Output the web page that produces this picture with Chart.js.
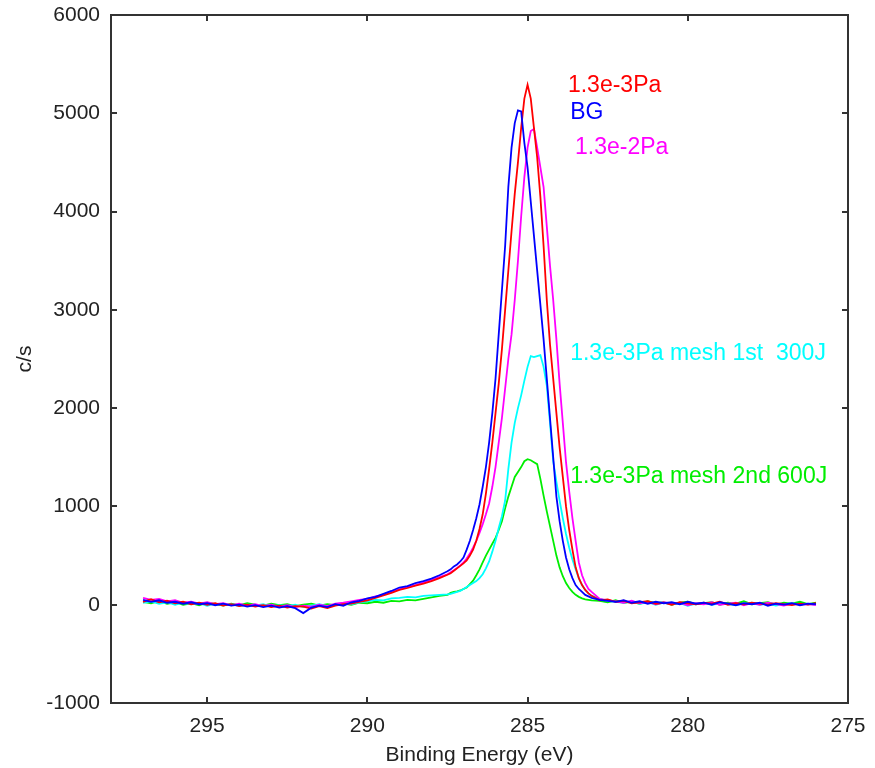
<!DOCTYPE html>
<html><head><meta charset="utf-8">
<script src="https://cdn.jsdelivr.net/npm/chart.js@4/dist/chart.umd.min.js"></script>
<style>html,body{margin:0;padding:0;background:#fff}#wrap{width:875px;height:768px}</style>
</head><body><div id="wrap"><canvas id="c" width="875" height="768"></canvas></div>
<script>
// ---- data (binding energy in eV, intensity in c/s) ----
const ENERGY = [
 297,296.75,296.5,296.25,296,295.75,295.5,295.25,295,294.75,294.5,294.25,294,293.75,293.5,293.25,293,292.75,292.5,292.25,
 292,291.75,291.5,291.25,291,290.75,290.5,290.25,290,289.75,289.5,289.25,289,288.75,288.5,288.25,288,287.75,287.5,
 287.4,287.3,287.2,287.1,287.0,286.9,286.8,286.7,286.6,286.5,286.4,286.3,286.2,286.1,286.0,285.9,285.8,285.7,285.6,285.5,
 285.4,285.3,285.2,285.1,285.0,284.9,284.8,284.7,284.6,284.5,284.4,284.3,284.2,284.1,284.0,283.9,283.8,283.7,283.6,283.5,
 283.4,283.3,283.2,283.1,283.0,
 282.75,282.5,282.25,282,281.75,281.5,281.25,281,280.75,280.5,280.25,280,279.75,279.5,279.25,279,278.75,278.5,278.25,278,
 277.75,277.5,277.25,277,276.75,276.5,276.25,276
];
const BG_VALUES = [
 50,30,45,20,30,10,25,5,15,-5,10,-10,0,-20,-5,-25,-10,-30,-15,-35,-85,-30,-10,-25,5,-10,25,40,65,80,110,140,175,190,220,240,265,300,340,
 360,390,410,440,480,560,650,760,880,1020,1200,1400,1650,1950,2300,2750,3200,3650,4250,4650,4900,5030,5020,4700,4450,
 4100,3750,3400,3050,2700,2300,1900,1500,1100,850,650,480,360,270,200,160,130,100,85,70,
 50,40,30,45,20,35,10,30,15,25,5,30,10,20,0,25,10,-5,15,5,20,-10,10,0,15,-5,10,5
];
const P13E3_VALUES = [
 30,55,25,40,15,30,5,20,0,15,-10,5,-15,0,-20,-5,-25,-10,-30,-15,-20,-40,-15,-35,-10,5,10,30,45,70,95,120,150,170,195,215,240,270,305,
 320,345,370,395,420,450,500,560,650,770,920,1130,1380,1650,1950,2250,2600,3000,3400,3800,4180,4500,4850,5150,5290,
 5150,4850,4550,4150,3650,3100,2650,2300,1950,1600,1300,1000,760,560,380,270,200,150,115,90,
 45,55,30,40,15,25,35,10,20,0,25,15,5,20,10,30,0,15,5,20,10,0,15,5,-5,10,0,15
];
const P13E2_VALUES = [
 70,50,60,35,45,20,30,10,25,5,15,-5,10,-10,5,-15,0,-20,-5,-25,-10,-20,0,-15,10,20,35,50,60,85,100,130,155,180,200,225,250,280,310,
 330,350,375,400,430,470,520,580,650,730,820,920,1030,1200,1400,1650,1900,2200,2500,2750,3100,3500,3950,4350,4650,
 4820,4840,4650,4450,4250,3850,3450,3100,2700,2250,1850,1450,1150,880,650,430,300,220,160,130,
 60,45,35,20,40,15,30,5,25,10,20,-5,15,5,25,0,10,20,-5,15,0,20,5,-10,10,0,5,-5
];
const MESH1_VALUES = [
 20,35,10,25,0,20,5,15,-10,10,-5,5,-15,0,-10,5,-20,-5,-15,0,-25,-10,5,-15,0,15,5,25,35,50,45,65,70,80,75,90,95,100,105,
 110,120,130,140,160,180,200,220,240,270,310,370,440,540,650,780,900,1060,1380,1650,1850,2000,2130,2280,2420,
 2530,2520,2530,2540,2420,2230,1850,1460,1250,1060,880,720,580,460,360,270,200,150,115,90,
 60,40,30,20,35,10,25,0,20,5,15,-10,10,20,0,15,5,-5,10,20,0,10,-10,5,15,0,10,-5
];
const MESH2_VALUES = [
 30,15,40,10,25,0,15,-5,20,5,-10,10,-5,15,0,-10,10,-5,5,-15,0,10,-10,5,-5,10,0,20,15,30,20,40,35,50,45,60,75,90,100,
 120,130,135,145,160,175,210,245,300,360,430,500,560,620,680,760,850,980,1100,1200,1300,1350,1400,1460,1480,
 1470,1450,1430,1280,1110,950,800,650,500,380,290,220,170,130,100,80,65,55,50,45,
 40,25,45,20,30,10,35,15,25,0,20,30,5,15,25,0,20,10,35,5,15,25,0,20,10,30,5,20
];
const SERIES_NAMES = ['BG', '1.3e-3Pa', '1.3e-2Pa', '1.3e-3Pa mesh 1st  300J', '1.3e-3Pa mesh 2nd 600J'];
const X_TICKS = [295, 290, 285, 280, 275];
const Y_TICKS = [-1000, 0, 1000, 2000, 3000, 4000, 5000, 6000];
const X_TITLE = 'Binding Energy (eV)';
const Y_TITLE = 'c/s';

// ---- styles / layout ----
const COLORS = ['#0000ff', '#ff0000', '#ff00ff', '#00ffff', '#00ee00'];
const LABEL_ANCHORS = [ // where each series name is written (data units)
  {s: 1, x: 283.74, y: 5217},
  {s: 0, x: 283.67, y: 4943},
  {s: 2, x: 283.52, y: 4587},
  {s: 3, x: 283.67, y: 2492},
  {s: 4, x: 283.67, y: 1241}
];
const FONT = '"Liberation Sans", Arial, sans-serif';
const ALL_VALUES = [BG_VALUES, P13E3_VALUES, P13E2_VALUES, MESH1_VALUES, MESH2_VALUES];

const datasets = ALL_VALUES.map((vals, i) => ({
  label: SERIES_NAMES[i],
  data: ENERGY.map((e, k) => ({x: e, y: vals[k]})),
  borderColor: COLORS[i],
  backgroundColor: COLORS[i],
  borderWidth: 1.8,
  pointRadius: 0,
  tension: 0,
  fill: false
}));

const framePlugin = {
  id: 'frame',
  afterDatasetsDraw(chart) {
    const {ctx, chartArea: {left, right, top, bottom}, scales: {x, y}} = chart;
    ctx.save();
    ctx.strokeStyle = '#333';
    ctx.lineWidth = 2;
    ctx.strokeRect(left, top, right - left, bottom - top);
    ctx.beginPath();
    x.ticks.forEach(t => {
      const px = Math.round(x.getPixelForValue(t.value));
      ctx.moveTo(px, bottom); ctx.lineTo(px, bottom - 6);
      ctx.moveTo(px, top); ctx.lineTo(px, top + 6);
    });
    y.ticks.forEach(t => {
      const py = Math.round(y.getPixelForValue(t.value));
      ctx.moveTo(left, py); ctx.lineTo(left + 6, py);
      ctx.moveTo(right, py); ctx.lineTo(right - 6, py);
    });
    ctx.stroke();
    ctx.font = '23px ' + FONT;
    ctx.textBaseline = 'alphabetic';
    ctx.textAlign = 'left';
    LABEL_ANCHORS.forEach(a => {
      ctx.fillStyle = COLORS[a.s];
      ctx.fillText(SERIES_NAMES[a.s], x.getPixelForValue(a.x), y.getPixelForValue(a.y));
    });
    ctx.restore();
  }
};

const zeroPad = s => { s.paddingTop = 0; s.paddingBottom = 0; s.paddingLeft = 0; s.paddingRight = 0; };

new Chart(document.getElementById('c'), {
  type: 'line',
  data: {datasets},
  plugins: [framePlugin],
  options: {
    responsive: false,
    animation: false,
    layout: {padding: {top: 15, right: 27, bottom: 0, left: 0}},
    plugins: {legend: {display: false}, tooltip: {enabled: false}, title: {display: false}},
    scales: {
      x: {
        type: 'linear', reverse: true, min: 275, max: 298,
        afterBuildTicks: s => { s.ticks = X_TICKS.map(v => ({value: v})); },
        afterFit: s => { s.height = 65; zeroPad(s); },
        grid: {display: false, drawTicks: false},
        border: {display: false},
        ticks: {color: '#222', font: {family: FONT, size: 21}, padding: 11, maxRotation: 0, autoSkip: false,
                callback: v => String(v)},
        title: {display: true, text: X_TITLE, color: '#222', font: {family: FONT, size: 21}, padding: {top: 0, bottom: 0}}
      },
      y: {
        type: 'linear', min: -1000, max: 6000,
        afterBuildTicks: s => { s.ticks = Y_TICKS.map(v => ({value: v})); },
        afterFit: s => { s.width = 111; zeroPad(s); },
        grid: {display: false, drawTicks: false},
        border: {display: false},
        ticks: {color: '#222', font: {family: FONT, size: 21}, padding: 11, autoSkip: false,
                callback: v => String(v)},
        title: {display: true, text: Y_TITLE, color: '#222', font: {family: FONT, size: 21}, padding: {top: 13, bottom: 0}}
      }
    }
  }
});
</script></body></html>
